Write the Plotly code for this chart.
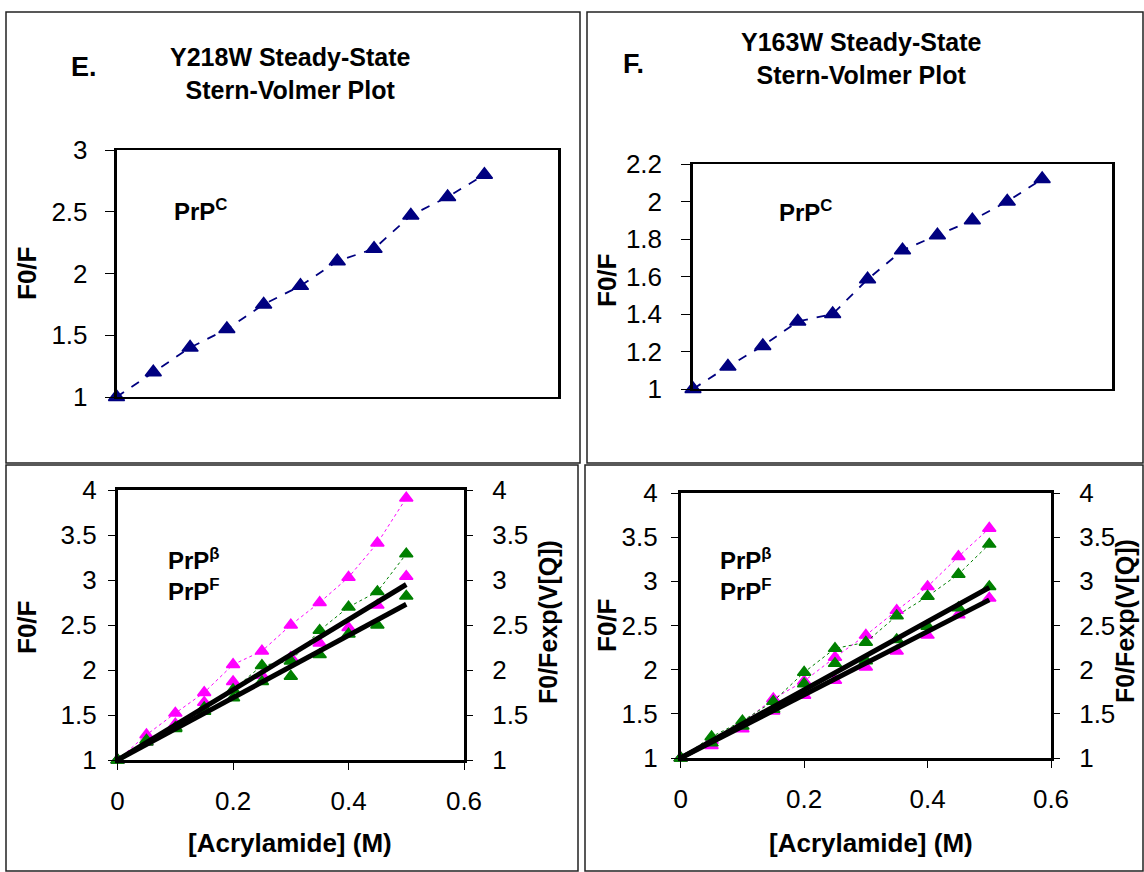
import plotly.graph_objects as go

# ---------------- data ----------------
conc = [0.0, 0.05, 0.10, 0.15, 0.20, 0.25, 0.30, 0.35, 0.40, 0.45, 0.50]

# Panel E (Y218W)
e_prpc = [1.0, 1.2, 1.4, 1.55, 1.75, 1.9, 2.1, 2.2, 2.47, 2.62, 2.8]
e_mag_f0f = [1.0, 1.28, 1.52, 1.75, 2.06, 2.21, 2.5, 2.75, 3.03, 3.41, 3.91]
e_grn_f0f = [1.0, 1.22, 1.36, 1.58, 1.78, 2.05, 2.1, 2.44, 2.70, 2.87, 3.29]
e_mag_corr = [1.0, 1.2, 1.4, 1.64, 1.87, 1.94, 2.14, 2.30, 2.47, 2.72, 3.04]
e_grn_corr = [1.0, 1.2, 1.35, 1.54, 1.69, 1.87, 1.93, 2.17, 2.40, 2.50, 2.82]
e_ksv = [3.9, 3.46]

# Panel F (Y163W)
f_prpc = [1.0, 1.12, 1.23, 1.36, 1.40, 1.585, 1.74, 1.82, 1.90, 2.0, 2.12]
f_mag_f0f = [1.0, 1.2, 1.4, 1.67, 1.87, 2.14, 2.39, 2.67, 2.94, 3.28, 3.60]
f_grn_f0f = [1.0, 1.24, 1.42, 1.64, 1.97, 2.24, 2.31, 2.61, 2.83, 3.08, 3.42]
f_mag_corr = [1.0, 1.14, 1.33, 1.53, 1.71, 1.88, 2.03, 2.21, 2.39, 2.62, 2.81]
f_grn_corr = [1.0, 1.17, 1.36, 1.55, 1.84, 2.07, 2.1, 2.34, 2.49, 2.70, 2.94]
f_ksv = [3.86, 3.58]

fit_x = [0.0, 0.5]

NAVY = "#000080"
MAG = "#FF00FF"
GRN = "#008000"
FONT = "Arial, Liberation Sans, sans-serif"

W, H = 1144, 872


def px(x):
    return x / W


def py(y):
    return 1 - y / H


fig = go.Figure()


def tri(color, size):
    return dict(symbol="triangle-up", size=size, color=color, line=dict(color=color, width=1.5))


# top panels
fig.add_trace(go.Scatter(x=conc, y=e_prpc, mode="lines+markers", xaxis="x", yaxis="y",
                         line=dict(color=NAVY, width=1.8, dash="dash"),
                         marker=tri(NAVY, 14), cliponaxis=False, showlegend=False))
fig.add_trace(go.Scatter(x=conc, y=f_prpc, mode="lines+markers", xaxis="x2", yaxis="y2",
                         line=dict(color=NAVY, width=1.8, dash="dash"),
                         marker=tri(NAVY, 14), cliponaxis=False, showlegend=False))


def bottom(xa, ya, ya2, mag, grn, magc, grnc, ksv):
    fig.add_trace(go.Scatter(x=conc, y=mag, mode="lines+markers", xaxis=xa, yaxis=ya,
                             line=dict(color=MAG, width=1, dash="dot"),
                             marker=tri(MAG, 11.5), cliponaxis=False, showlegend=False))
    fig.add_trace(go.Scatter(x=conc, y=magc, mode="markers", xaxis=xa, yaxis=ya2,
                             marker=tri(MAG, 11.5), cliponaxis=False, showlegend=False))
    fig.add_trace(go.Scatter(x=conc, y=grn, mode="lines+markers", xaxis=xa, yaxis=ya2,
                             line=dict(color=GRN, width=1, dash="dot"),
                             marker=tri(GRN, 11.5), cliponaxis=False, showlegend=False))
    fig.add_trace(go.Scatter(x=conc, y=grnc, mode="markers", xaxis=xa, yaxis=ya2,
                             marker=tri(GRN, 11.5), cliponaxis=False, showlegend=False))
    for k in ksv:
        fig.add_trace(go.Scatter(x=fit_x, y=[1 + k * v for v in fit_x], mode="lines",
                                 xaxis=xa, yaxis=ya2,
                                 line=dict(color="black", width=5),
                                 cliponaxis=False, showlegend=False))


bottom("x3", "y3", "y4", e_mag_f0f, e_grn_f0f, e_mag_corr, e_grn_corr, e_ksv)
bottom("x4", "y5", "y6", f_mag_f0f, f_grn_f0f, f_mag_corr, f_grn_corr, f_ksv)

tickfont = dict(family=FONT, size=26, color="black")

common_x = dict(range=[0, 0.6], showgrid=False, zeroline=False, showline=True, mirror=True,
                linecolor="black", linewidth=2, automargin=False)
common_y = dict(showgrid=False, zeroline=False, showline=True, mirror=True,
                linecolor="black", linewidth=2.5, ticks="outside", tickcolor="black",
                tickwidth=1, tickfont=tickfont, automargin=False)

layout = dict(
    width=W, height=H, margin=dict(l=0, r=0, t=0, b=0, autoexpand=False),
    paper_bgcolor="white", plot_bgcolor="white", showlegend=False,
    xaxis=dict(common_x, domain=[px(116.5), px(558)], anchor="y", showticklabels=False, ticks=""),
    yaxis=dict(common_y, domain=[py(397), py(150)], anchor="x", range=[1, 3], dtick=0.5,
               ticklen=9, ticklabelstandoff=12),
    xaxis2=dict(common_x, domain=[px(693), px(1112)], anchor="y2", showticklabels=False, ticks=""),
    yaxis2=dict(common_y, domain=[py(389), py(164)], anchor="x2", range=[1, 2.2], dtick=0.2,
                ticklen=9, ticklabelstandoff=14),
    xaxis3=dict(common_x, domain=[px(117.6), px(464)], anchor="y3", ticks="outside",
                ticklen=7, tickcolor="black", tickvals=[0, 0.2, 0.4, 0.6], tickfont=tickfont,
                ticklabelstandoff=9, linewidth=2.5),
    yaxis3=dict(common_y, domain=[py(760), py(490)], anchor="x3", range=[1, 4], dtick=0.5,
                ticklen=7, ticklabelstandoff=6),
    yaxis4=dict(overlaying="y3", side="right", anchor="x3", range=[1, 4], dtick=0.5,
                showgrid=False, zeroline=False, showline=False, ticks="outside", ticklen=8,
                tickcolor="black", tickfont=tickfont, ticklabelstandoff=14, automargin=False),
    xaxis4=dict(common_x, domain=[px(680.7), px(1051)], anchor="y5", ticks="outside",
                ticklen=7, tickcolor="black", tickvals=[0, 0.2, 0.4, 0.6], tickfont=tickfont,
                ticklabelstandoff=9, linewidth=2.5),
    yaxis5=dict(common_y, domain=[py(758), py(493)], anchor="x4", range=[1, 4], dtick=0.5,
                ticklen=7, ticklabelstandoff=8),
    yaxis6=dict(overlaying="y5", side="right", anchor="x4", range=[1, 4], dtick=0.5,
                showgrid=False, zeroline=False, showline=False, ticks="outside", ticklen=8,
                tickcolor="black", tickfont=tickfont, ticklabelstandoff=14, automargin=False),
)
fig.update_layout(**layout)

# panel frames
for (x0, y0, x1, y1) in [(6, 12, 580, 463), (587, 12, 1143, 463), (6, 465, 578, 871), (585, 465, 1143, 871)]:
    fig.add_shape(type="rect", xref="paper", yref="paper", x0=px(x0), x1=px(x1), y0=py(y1), y1=py(y0),
                  line=dict(color="#222222", width=1.5), fillcolor="rgba(0,0,0,0)", layer="below")


def ann(text, x, y, size, xanchor="center", angle=0):
    fig.add_annotation(text=text, x=px(x), y=py(y), xref="paper", yref="paper", showarrow=False,
                       xanchor=xanchor, yanchor="middle", textangle=angle,
                       font=dict(family=FONT, size=size, color="black"))


ann("<b>E.</b>", 69, 67, 27, "left")
ann("<b>F.</b>", 621, 64, 27, "left")
ann("<b>Y218W Steady-State<br>Stern-Volmer Plot</b>", 290, 73, 25)
ann("<b>Y163W Steady-State<br>Stern-Volmer Plot</b>", 861, 59, 25)
ann("<b>PrP<sup>C</sup></b>", 172, 210, 24, "left")
ann("<b>PrP<sup>C</sup></b>", 777, 211, 24, "left")
ann("<b>PrP<sup>β</sup><br>PrP<sup>F</sup></b>", 166, 574, 24, "left")
ann("<b>PrP<sup>β</sup><br>PrP<sup>F</sup></b>", 718, 574, 24, "left")
ann("<b>F0/F</b>", 27, 274, 26, angle=-90)
ann("<b>F0/F</b>", 607, 281, 26, angle=-90)
ann("<b>F0/F</b>", 27, 628, 26, angle=-90)
ann("<b>F0/F</b>", 607, 626, 26, angle=-90)
ann("<b>F0/Fexp(V[Q])</b>", 548, 622, 25, angle=-90)
ann("<b>F0/Fexp(V[Q])</b>", 1125, 621, 25, angle=-90)
ann("<b>[Acrylamide] (M)</b>", 290, 843, 26)
ann("<b>[Acrylamide] (M)</b>", 871, 843, 26)

fig.write_html("out.html")
